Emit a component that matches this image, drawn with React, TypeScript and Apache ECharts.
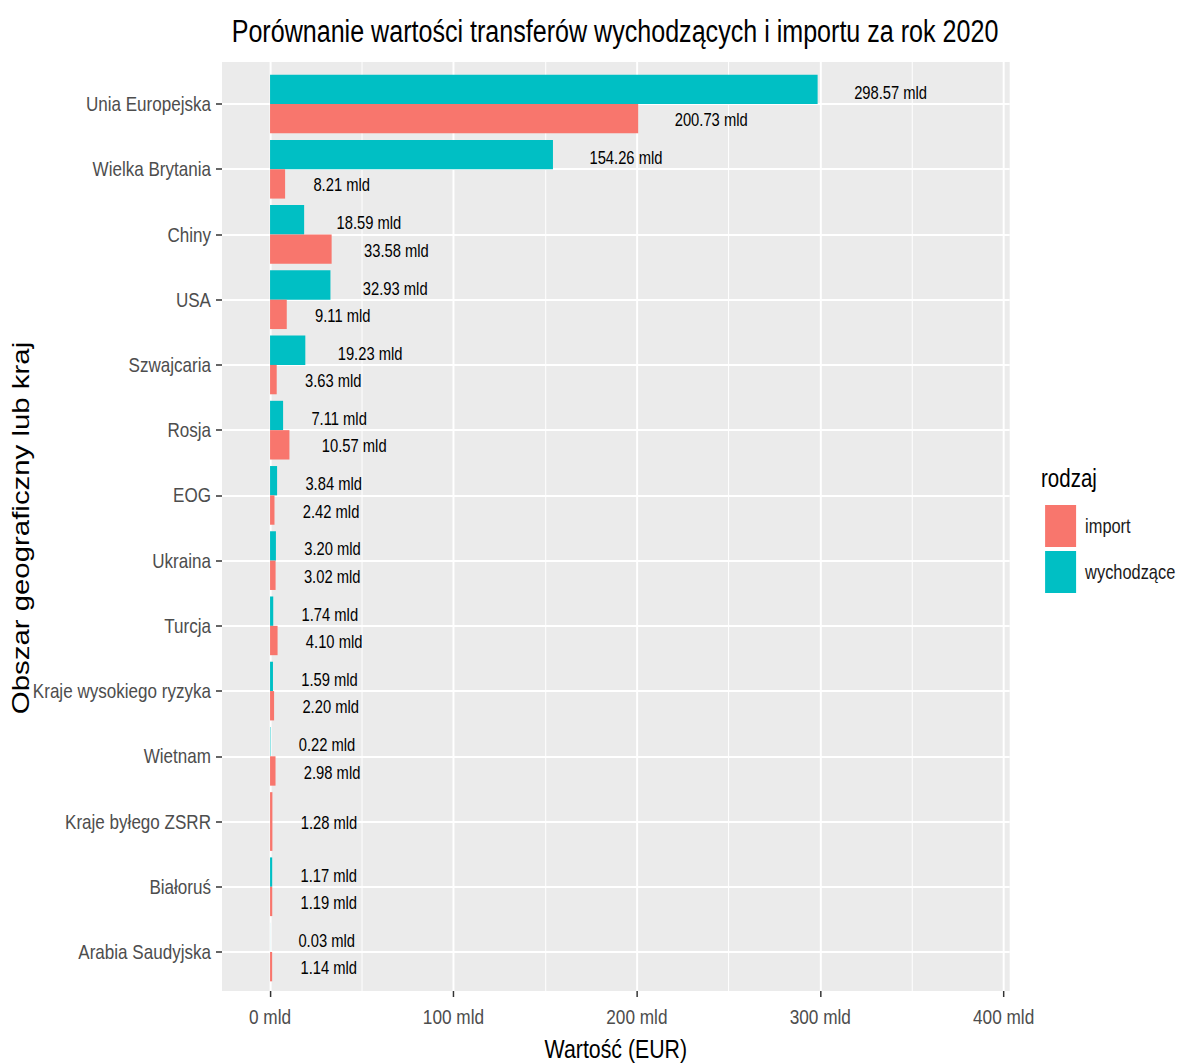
import React, { useEffect, useRef } from "react";
import * as echarts from "echarts";

const categories = [
  "Unia Europejska",
  "Wielka Brytania",
  "Chiny",
  "USA",
  "Szwajcaria",
  "Rosja",
  "EOG",
  "Ukraina",
  "Turcja",
  "Kraje wysokiego ryzyka",
  "Wietnam",
  "Kraje byłego ZSRR",
  "Białoruś",
  "Arabia Saudyjska",
];
// values in billions of EUR (mld)
const outgoing: (number | null)[] = [298.57, 154.26, 18.59, 32.93, 19.23, 7.11, 3.84, 3.2, 1.74, 1.59, 0.22, null, 1.17, 0.03];
const imports: number[] = [200.73, 8.21, 33.58, 9.11, 3.63, 10.57, 2.42, 3.02, 4.1, 2.2, 2.98, 1.28, 1.19, 1.14];
const xTicks = [0, 100, 200, 300, 400];
const xMinor = [50, 150, 250, 350];

// The reference is horizontally condensed; the chart is drawn wider and squeezed with scaleX.
const SX = 0.82;
const W = 1177;
const H = 1063;
const IW = W / SX;
const px = (x: number) => x / SX; // screen x -> inner x

const FONT = "'Liberation Sans', Arial, sans-serif";
const PINK = "#F8766D";
const TEAL = "#00BFC4";

const charW: Record<string, number> = { ".": 278, " ": 278, m: 833, l: 222, d: 556 };
function textWidth(s: string, size: number) {
  let w = 0;
  for (const c of s) w += charW[c] ?? 556;
  return (w / 1000) * size;
}
const fmt = (v: number) => `${v.toFixed(2)} mld`;
const LABEL_SIZE = 18;

function item(v: number | null) {
  if (v == null) return { value: null };
  return {
    value: v,
    label: { distance: textWidth(fmt(v), LABEL_SIZE) / 2 },
  };
}

export default function App() {
  const ref = useRef<HTMLDivElement>(null);
  useEffect(() => {
    if (!ref.current) return;
    const chart = echarts.init(ref.current, null, { renderer: "svg" });
    const dodgedImport = imports.map((v, i) => (outgoing[i] == null ? null : v));
    const soloImport = imports.map((v, i) => (outgoing[i] == null ? v : null));
    const labelCfg = (dy: number) => ({
      show: true,
      position: "right",
      formatter: (p: any) => fmt(p.value),
      fontFamily: FONT,
      fontSize: LABEL_SIZE,
      color: "#000",
      offset: [0, dy],
    });
    const gridL = px(222);
    const gridR = IW - px(1010);
    const option: any = {
      animation: false,
      textStyle: { fontFamily: FONT },
      graphic: [
        {
          type: "text",
          x: px(615),
          y: 32,
          style: {
            text: "Porównanie wartości transferów wychodzących i importu za rok 2020",
            textAlign: "center",
            textVerticalAlign: "middle",
            fontFamily: FONT,
            fontSize: 30.6,
            fill: "#000",
          },
        },
        {
          type: "text",
          x: px(1041),
          y: 478,
          style: {
            text: "rodzaj",
            textAlign: "left",
            textVerticalAlign: "middle",
            fontFamily: FONT,
            fontSize: 25,
            fill: "#000",
          },
        },
      ],
      legend: {
        data: ["import", "wychodzące"],
        orient: "vertical",
        left: px(1041),
        top: 500,
        itemWidth: px(31),
        itemHeight: 42,
        itemGap: 4,
        icon: "rect",
        selectedMode: false,
        textStyle: { fontFamily: FONT, fontSize: 20, color: "#1A1A1A", padding: [0, 0, 0, 6] },
      },
      grid: [
        { left: gridL, right: gridR, top: 71.4, bottom: 78.4, outerBoundsMode: "none" },
        {
          left: gridL,
          right: gridR,
          top: 62,
          bottom: 72,
          show: true,
          backgroundColor: "#EBEBEB",
          borderWidth: 0,
          outerBoundsMode: "none",
        },
      ],
      xAxis: [
        {
          type: "value",
          gridIndex: 0,
          min: -26.2,
          max: 403.3,
          offset: 6.4,
          axisLine: { show: false, onZero: false },
          splitLine: { show: false },
          axisTick: { show: true, customValues: xTicks, length: 6, lineStyle: { color: "#333", width: 1.8 } },
          axisLabel: {
            customValues: xTicks,
            formatter: (v: number) => `${v} mld`,
            fontFamily: FONT,
            fontSize: 21,
            color: "#4D4D4D",
            margin: 15,
          },
          name: "Wartość (EUR)",
          nameLocation: "middle",
          nameGap: 45,
          nameMoveOverlap: false,
          nameTextStyle: { fontFamily: FONT, fontSize: 26, color: "#000" },
        },
        { type: "value", gridIndex: 1, min: -26.2, max: 403.3, show: false },
      ],
      yAxis: [
        {
          type: "category",
          gridIndex: 0,
          data: categories,
          inverse: true,
          axisLine: { show: false, onZero: false },
          axisTick: { show: true, alignWithLabel: true, length: px(6), lineStyle: { color: "#333", width: 1.5 } },
          axisLabel: { fontFamily: FONT, fontSize: 20.8, color: "#4D4D4D", margin: px(11) },
          splitLine: { show: false },
          name: "Obszar geograficzny lub kraj",
          nameLocation: "middle",
          nameGap: gridL - px(21) - 15,
          nameMoveOverlap: false,
          nameRotate: 90,
          nameTextStyle: { fontFamily: FONT, fontSize: 29.4, color: "#000" },
        },
        { type: "category", gridIndex: 0, data: categories, inverse: true, show: false },
        { type: "value", gridIndex: 1, min: 0, max: 1, show: false },
      ],
      series: [
        {
          type: "scatter",
          name: "_grid",
          xAxisIndex: 1,
          yAxisIndex: 2,
          data: [[0, 0.5]],
          symbolSize: 0,
          silent: true,
          z: 1,
          markLine: {
            z: 1,
            silent: true,
            symbol: ["none", "none"],
            label: { show: false },
            emphasis: { disabled: true },
            data: [
              ...xMinor.map((v) => ({ xAxis: v, lineStyle: { color: "#fff", width: 1.2, type: "solid" } })),
              ...xTicks.map((v) => ({ xAxis: v, lineStyle: { color: "#fff", width: 2.4, type: "solid" } })),
            ],
          },
        },
        {
          type: "scatter",
          name: "_hgrid",
          xAxisIndex: 0,
          yAxisIndex: 1,
          data: [[0, categories[0]]],
          symbolSize: 0,
          silent: true,
          z: 1,
          markLine: {
            z: 1,
            silent: true,
            symbol: ["none", "none"],
            label: { show: false },
            emphasis: { disabled: true },
            data: categories.map((c) => ({ yAxis: c, lineStyle: { color: "#fff", width: 2, type: "solid" } })),
          },
        },
        {
          type: "bar",
          name: "wychodzące",
          yAxisIndex: 0,
          data: outgoing.map(item),
          itemStyle: { color: TEAL },
          barGap: "0%",
          barCategoryGap: "10%",
          label: labelCfg(3),
          z: 3,
        },
        {
          type: "bar",
          name: "import",
          yAxisIndex: 0,
          data: dodgedImport.map(item),
          itemStyle: { color: PINK },
          barGap: "0%",
          barCategoryGap: "10%",
          label: labelCfg(1),
          z: 3,
        },
        {
          type: "bar",
          name: "import",
          yAxisIndex: 1,
          data: soloImport.map(item),
          itemStyle: { color: PINK },
          barCategoryGap: "10%",
          label: labelCfg(1),
          z: 3,
        },
      ],
    };
    chart.setOption(option);
    return () => chart.dispose();
  }, []);
  return (
    <div
      style={{
        position: "absolute",
        left: 0,
        top: 0,
        width: W,
        height: H,
        overflow: "hidden",
        background: "#fff",
      }}
    >
      <div
        ref={ref}
        style={{
          width: IW,
          height: H,
          transform: `scaleX(${SX})`,
          transformOrigin: "0 0",
        }}
      />
    </div>
  );
}
